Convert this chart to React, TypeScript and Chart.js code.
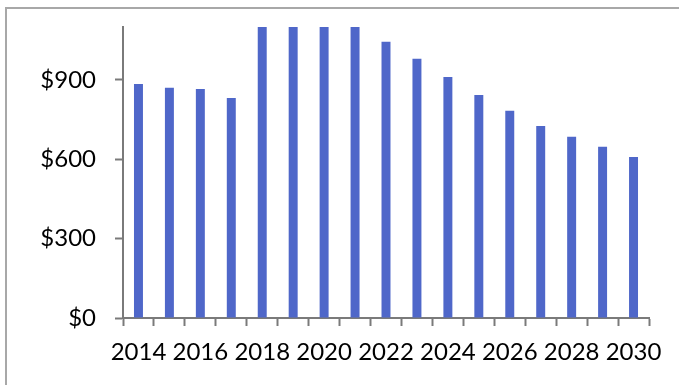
import React, { useEffect, useRef } from "react";
import { Chart, registerables } from "chart.js";

Chart.register(...registerables);

const years = ["2014","2015","2016","2017","2018","2019","2020","2021","2022","2023","2024","2025","2026","2027","2028","2029","2030"];
const costs = [885, 870, 866, 832, 1160, 1190, 1210, 1120, 1044, 980, 911, 843, 783, 726, 685, 647, 609];
const yTickValues = [0, 300, 600, 900];
const yMin = 0;
const yMax = 1100;

const FONT = "Lato, 'Open Sans', sans-serif";
const AXIS_COLOR = "#7a7a7a";

export default function App() {
  const ref = useRef<HTMLCanvasElement | null>(null);

  useEffect(() => {
    const canvas = ref.current;
    if (!canvas) return;
    const chart = new Chart(canvas, {
      type: "bar",
      data: {
        labels: years,
        datasets: [
          {
            data: costs,
            backgroundColor: "#4F67C9",
            borderWidth: 0,
            categoryPercentage: 1,
            barPercentage: 0.29,
          },
        ],
      },
      options: {
        responsive: false,
        animation: false,
        events: [],
        layout: { padding: { top: 27, right: 30, left: 0, bottom: 0 } },
        plugins: { legend: { display: false }, tooltip: { enabled: false } },
        scales: {
          x: {
            grid: {
              display: true,
              drawOnChartArea: false,
              drawTicks: true,
              tickLength: 8,
              tickWidth: 2,
              tickColor: AXIS_COLOR,
              offset: true,
            },
            border: { display: true, color: AXIS_COLOR, width: 2 },
            ticks: {
              autoSkip: false,
              maxRotation: 0,
              minRotation: 0,
              padding: 12,
              color: "#000",
              font: { family: FONT, size: 24 },
              callback: (_v: any, i: number) => (i % 2 === 0 ? years[i] : ""),
            },
            afterFit: (s: any) => {
              s.height = 67;
              s.paddingLeft = 0;
              s.paddingRight = 0;
            },
          },
          y: {
            min: yMin,
            max: yMax,
            grid: {
              display: true,
              drawOnChartArea: false,
              drawTicks: true,
              tickLength: 8,
              tickWidth: 2,
              tickColor: AXIS_COLOR,
            },
            border: { display: true, color: AXIS_COLOR, width: 2 },
            ticks: {
              stepSize: 300,
              padding: 19,
              color: "#000",
              font: { family: FONT, size: 24 },
              callback: (v: any) => "$" + v,
            },
            afterBuildTicks: (s: any) => {
              s.ticks = yTickValues.map((v) => ({ value: v }));
            },
            afterFit: (s: any) => {
              s.width = 123;
              s.paddingTop = 0;
              s.paddingBottom = 0;
            },
          },
        },
      },
    });
    return () => chart.destroy();
  }, []);

  return (
    <div style={{ position: "fixed", left: 0, top: 0, width: 679, height: 385, background: "#fff", overflow: "hidden" }}>
      <div
        style={{
          position: "absolute",
          left: 5,
          top: 7,
          width: 700,
          height: 400,
          borderTop: "2px solid #a8a8a8",
          borderLeft: "2px solid #a8a8a8",
          boxSizing: "border-box",
        }}
      />
      <canvas ref={ref} width={679} height={385} style={{ position: "absolute", left: 0, top: 0, display: "block" }} />
    </div>
  );
}
